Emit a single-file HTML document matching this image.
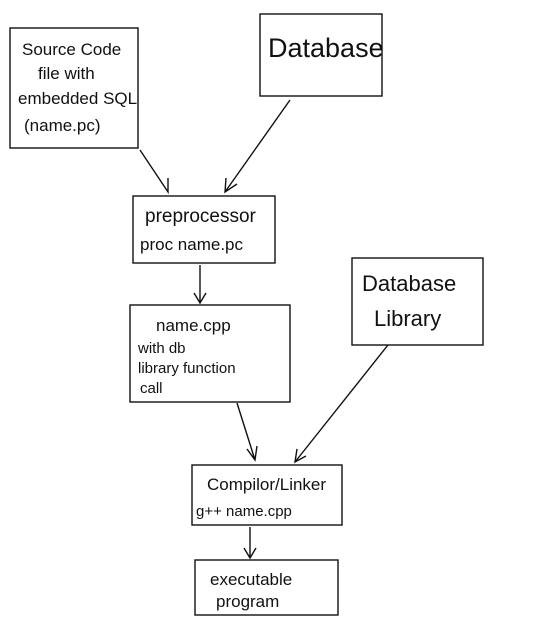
<!DOCTYPE html>
<html><head><meta charset="utf-8"><style>
html,body{margin:0;padding:0;background:#fff;}
svg{display:block}
text{font-family:"Liberation Sans",sans-serif;fill:#111}
</style></head><body>
<svg width="537" height="625" viewBox="0 0 537 625" xmlns="http://www.w3.org/2000/svg">
<g fill="none" stroke="#111" stroke-width="1.4">
<rect x="10" y="28" width="128" height="120"/>
<rect x="260" y="14" width="122" height="82"/>
<rect x="133" y="196" width="142" height="67"/>
<rect x="130" y="305" width="160" height="97"/>
<rect x="352" y="258" width="131" height="87"/>
<rect x="192" y="465" width="150" height="60"/>
<rect x="195" y="560" width="143" height="55"/>
<path d="M140 150 L168 192 M160 180 L168 192 L168 178"/>
<path d="M290 100 L225 192 M226 178 L225 192 L237 184"/>
<path d="M200 265 L200 303 M194 293 L200 303 L206 293"/>
<path d="M237 403 L255 460 M247 449 L255 460 L257 446"/>
<path d="M388 345 L295 462 M297 449 L295 462 L306 456"/>
<path d="M250 527 L250 558 M244 548 L250 558 L256 548"/>
</g>
<g style="font-size:17px">
<text x="22" y="55">Source Code</text>
<text x="38" y="79">file with</text>
<text x="18" y="104">embedded SQL</text>
<text x="24" y="131">(name.pc)</text>
<text x="268" y="57" style="font-size:27px">Database</text>
<text x="145" y="222" style="font-size:19px">preprocessor</text>
<text x="140" y="250">proc name.pc</text>
<text x="156" y="331">name.cpp</text>
<text x="138" y="353" style="font-size:15px">with db</text>
<text x="138" y="373" style="font-size:15px">library function</text>
<text x="140" y="393" style="font-size:15px">call</text>
<text x="362" y="291" style="font-size:22px">Database</text>
<text x="374" y="326" style="font-size:22px">Library</text>
<text x="207" y="490">Compilor/Linker</text>
<text x="196" y="516" style="font-size:15px">g++  name.cpp</text>
<text x="210" y="585">executable</text>
<text x="216" y="607">program</text>
</g>
</svg>
</body></html>
